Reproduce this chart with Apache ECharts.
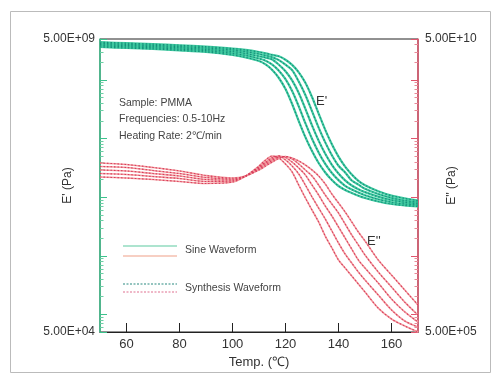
<!DOCTYPE html>
<html><head><meta charset="utf-8">
<script src="https://cdn.jsdelivr.net/npm/echarts@6/dist/echarts.min.js"></script>
<style>html,body{margin:0;padding:0;background:#fff}#c{width:498px;height:383px}</style>
</head><body><div id="c"></div>
<script>
// Temperature grid (°C)
const temps = [50,60,70,80,90,100,105,110,112.5,115,117.5,120,122.5,125,127.5,130,132.5,135,137.5,140,142.5,145,147.5,150,155,160,165,170];

// E' storage modulus (Pa), five frequencies (0.5 ... 10 Hz)
const storage05 = [3.65e9,3.51e9,3.38e9,3.20e9,3.00e9,2.67e9,2.42e9,2.11e9,1.84e9,1.48e9,1.08e9,7.01e8,3.89e8,1.99e8,1.06e8,6.13e7,3.83e7,2.64e7,1.96e7,1.55e7,1.33e7,1.18e7,1.06e7,9.68e6,8.43e6,7.64e6,7.21e6,6.93e6];
const storage1  = [3.83e9,3.68e9,3.54e9,3.36e9,3.16e9,2.85e9,2.62e9,2.32e9,2.13e9,1.83e9,1.44e9,1.03e9,6.48e8,3.54e8,1.83e8,9.91e7,5.80e7,3.69e7,2.58e7,1.95e7,1.56e7,1.35e7,1.20e7,1.08e7,9.19e6,8.20e6,7.64e6,7.32e6];
const storage2  = [4.01e9,3.86e9,3.71e9,3.54e9,3.32e9,3.05e9,2.83e9,2.54e9,2.41e9,2.23e9,1.82e9,1.41e9,9.83e8,5.99e8,3.22e8,1.68e8,9.23e7,5.50e7,3.57e7,2.53e7,1.93e7,1.58e7,1.37e7,1.22e7,1.02e7,8.91e6,8.17e6,7.73e6];
const storage5  = [4.21e9,4.04e9,3.89e9,3.71e9,3.51e9,3.25e9,3.04e9,2.77e9,2.62e9,2.44e9,2.18e9,1.82e9,1.47e9,9.38e8,5.54e8,2.93e8,1.54e8,8.60e7,5.20e7,3.44e7,2.64e7,1.92e7,1.64e7,1.39e7,1.13e7,9.71e6,8.74e6,8.20e6];
const storage10 = [4.41e9,4.24e9,4.08e9,3.91e9,3.70e9,3.44e9,3.25e9,3.00e9,2.85e9,2.68e9,2.53e9,2.21e9,1.81e9,1.35e9,8.95e8,5.12e8,2.67e8,1.41e8,8.01e7,4.92e7,3.32e7,2.44e7,1.90e7,1.60e7,1.26e7,1.06e7,9.52e6,8.74e6];

// E'' loss modulus (Pa), five frequencies
const loss05 = [2.21e8,2.12e8,2.00e8,1.85e8,1.71e8,1.81e8,2.30e8,3.40e8,4.31e8,5.04e8,4.66e8,3.68e8,2.69e8,1.61e8,9.68e7,6.04e7,3.77e7,2.17e7,1.36e7,8.46e6,6.18e6,4.51e6,3.30e6,2.41e6,1.28e6,8.33e5,6.33e5,5.02e5];
const loss1  = [2.53e8,2.44e8,2.25e8,2.08e8,1.85e8,1.89e8,2.30e8,3.27e8,3.98e8,4.75e8,5.04e8,4.31e8,3.40e8,2.48e8,1.61e8,1.01e8,6.53e7,4.24e7,2.65e7,1.65e7,1.07e7,7.52e6,5.28e6,3.86e6,2.14e6,1.19e6,7.70e5,6.09e5];
const loss2  = [2.91e8,2.80e8,2.53e8,2.30e8,2.00e8,1.96e8,2.30e8,3.15e8,3.83e8,4.48e8,5.04e8,4.75e8,3.98e8,3.15e8,2.39e8,1.61e8,1.09e8,7.07e7,4.77e7,3.10e7,2.01e7,1.30e7,8.46e6,6.18e6,3.43e6,1.83e6,1.10e6,7.41e5];
const loss5  = [3.34e8,3.21e8,2.85e8,2.53e8,2.17e8,2.04e8,2.30e8,3.02e8,3.61e8,4.22e8,4.84e8,4.94e8,4.48e8,3.68e8,2.91e8,2.30e8,1.61e8,1.09e8,7.64e7,5.37e7,3.48e7,2.26e7,1.53e7,1.03e7,5.28e6,2.93e6,1.62e6,9.75e5];
const loss10 = [3.83e8,3.61e8,3.21e8,2.80e8,2.34e8,2.12e8,2.30e8,2.91e8,3.40e8,3.98e8,4.57e8,4.94e8,4.66e8,4.14e8,3.54e8,2.91e8,2.30e8,1.68e8,1.13e8,7.95e7,5.58e7,3.77e7,2.54e7,1.79e7,8.46e6,4.70e6,2.60e6,1.44e6];

const leftRange = [5e4, 5e9];
const rightRange = [5e5, 5e10];

const storageSets = [storage05, storage1, storage2, storage5, storage10];
const lossSets = [loss05, loss1, loss2, loss5, loss10];

function sci(v){
  const e = Math.round(Math.log10(v) - Math.log10(5));
  const m = v / Math.pow(10, e);
  return m.toFixed(2) + 'E+' + String(e).padStart(2, '0');
}
function edgeFmt(range){
  return function(v){
    const lv = Math.log10(v);
    if (Math.abs(lv - Math.log10(range[0])) < 0.01 || Math.abs(lv - Math.log10(range[1])) < 0.01) return sci(v);
    return '';
  };
}
function pairs(arr){ return temps.map((t,i)=>[t, arr[i]]); }

const FONT = 'Liberation Sans, Arial, sans-serif';
const series = [];
lossSets.forEach(arr=>{
  series.push({type:'line', yAxisIndex:1, data:pairs(arr), smooth:0.3, symbol:'none', silent:true,
    lineStyle:{color:'#f29a9e', width:1.6}, z:2});
  series.push({type:'line', yAxisIndex:1, data:pairs(arr), smooth:0.3, symbol:'none', silent:true,
    lineStyle:{color:'#d83c5c', width:1.1, type:[1.5,2]}, z:3});
});
storageSets.forEach(arr=>{
  series.push({type:'line', yAxisIndex:0, data:pairs(arr), smooth:0.3, symbol:'none', silent:true,
    lineStyle:{color:'#3fc9a0', width:2.2}, z:4});
  series.push({type:'line', yAxisIndex:0, data:pairs(arr), smooth:0.3, symbol:'none', silent:true,
    lineStyle:{color:'#15917a', width:1.2, type:[1.5,2]}, z:5});
});

const chart = echarts.init(document.getElementById('c'), null, {renderer:'canvas'});
chart.setOption({
  backgroundColor:'#fff',
  animation:false,
  grid:{left:100, right:80, top:39, bottom:51, outerBoundsMode:'none', containLabel:false,
    show:true, borderColor:'#222', borderWidth:1, backgroundColor:'transparent'},
  xAxis:{type:'value', min:50, max:170,
    name:'Temp. (\u2103)', nameLocation:'middle', nameGap:24, nameMoveOverlap:false,
    nameTextStyle:{fontFamily:FONT, fontSize:13, color:'#333'},
    axisLine:{lineStyle:{color:'#222', width:1}},
    axisTick:{inside:true, length:9, lineStyle:{color:'#222'}},
    axisLabel:{fontFamily:FONT, fontSize:13, color:'#333', margin:6, showMinLabel:false, showMaxLabel:false},
    splitLine:{show:false}},
  yAxis:[
    {type:'log', logBase:10, min:leftRange[0], max:leftRange[1], position:'left',
      name:"E' (Pa)", nameLocation:'middle', nameRotate:90, nameGap:26, nameMoveOverlap:false,
      nameTextStyle:{fontFamily:FONT, fontSize:12, color:'#333'},
      axisLine:{show:true, lineStyle:{color:'#3cc28c', width:1.5}},
      axisTick:{inside:true, length:7, lineStyle:{color:'#3cc28c'}},
      minorTick:{show:true, splitNumber:9, length:3.5, lineStyle:{color:'#6ccfa5'}},
      axisLabel:{formatter:edgeFmt(leftRange), fontFamily:FONT, fontSize:12, color:'#333', margin:5},
      splitLine:{show:false}},
    {type:'log', logBase:10, min:rightRange[0], max:rightRange[1], position:'right',
      name:"E'' (Pa)", nameLocation:'middle', nameRotate:90, nameGap:28, nameMoveOverlap:false,
      nameTextStyle:{fontFamily:FONT, fontSize:12, color:'#333'},
      axisLine:{show:true, lineStyle:{color:'#e0566e', width:1.5}},
      axisTick:{inside:true, length:7, lineStyle:{color:'#e0566e'}},
      minorTick:{show:true, splitNumber:9, length:3.5, lineStyle:{color:'#e88a98'}},
      axisLabel:{formatter:edgeFmt(rightRange), fontFamily:FONT, fontSize:12, color:'#333', margin:7},
      splitLine:{show:false}}
  ],
  graphic:[
    {type:'rect', shape:{x:10.5, y:11.5, width:480, height:361}, style:{fill:'none', stroke:'#bbb', lineWidth:1}, silent:true},
    {type:'text', left:119, top:98, style:{text:'Sample: PMMA', font:'10.5px '+FONT, fill:'#444'}},
    {type:'text', left:119, top:114, style:{text:'Frequencies: 0.5-10Hz', font:'10.5px '+FONT, fill:'#444'}},
    {type:'text', left:119, top:131, style:{text:'Heating Rate: 2\u2103/min', font:'10.5px '+FONT, fill:'#444'}},
    {type:'text', left:316, top:95, style:{text:"E'", font:'13px '+FONT, fill:'#333'}},
    {type:'text', left:367, top:235, style:{text:"E''", font:'13px '+FONT, fill:'#333'}},
    {type:'line', shape:{x1:123, y1:246, x2:177, y2:246}, style:{stroke:'#5cc99f', lineWidth:1.2}},
    {type:'line', shape:{x1:123, y1:256, x2:177, y2:256}, style:{stroke:'#f0a088', lineWidth:1.2}},
    {type:'text', left:185, top:245, style:{text:'Sine Waveform', font:'10.5px '+FONT, fill:'#444'}},
    {type:'line', shape:{x1:123, y1:284, x2:177, y2:284}, style:{stroke:'#2a8a80', lineWidth:1.1, lineDash:[2,1.5]}},
    {type:'line', shape:{x1:123, y1:292, x2:177, y2:292}, style:{stroke:'#e07090', lineWidth:1.1, lineDash:[2,1.5]}},
    {type:'text', left:185, top:283, style:{text:'Synthesis Waveform', font:'10.5px '+FONT, fill:'#444'}}
  ],
  series: series
});
</script></body></html>
